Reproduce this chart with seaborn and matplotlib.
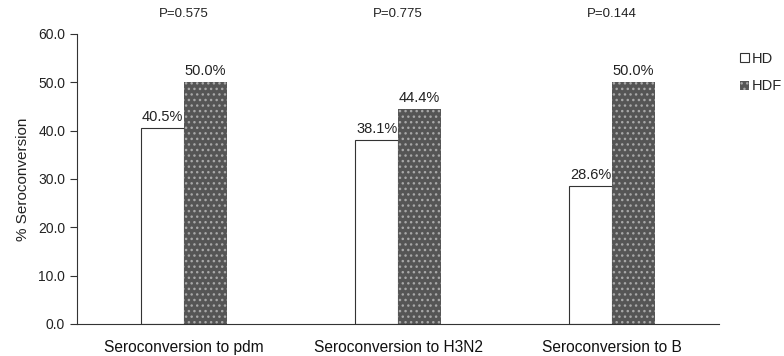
import matplotlib
matplotlib.use("Agg")
import matplotlib.pyplot as plt
import seaborn as sns
import pandas as pd
from matplotlib.patches import Patch

categories = ["Seroconversion to pdm", "Seroconversion to H3N2", "Seroconversion to B"]
groups = ["HD", "HDF"]
hd_values = [40.5, 38.1, 28.6]
hdf_values = [50.0, 44.4, 50.0]
p_values = ["P=0.575", "P=0.775", "P=0.144"]
y_ticks = [0, 10, 20, 30, 40, 50, 60]

df = pd.DataFrame({
    "category": categories * 2,
    "group": [groups[0]] * 3 + [groups[1]] * 3,
    "value": hd_values + hdf_values,
})

sns.set_style("white")
plt.rcParams["font.family"] = ["Liberation Sans", "DejaVu Sans"]
plt.rcParams["hatch.linewidth"] = 1.0

DOT_FACE = "#555555"
DOT_COLOR = "#a8a8a8"

fig = plt.figure(figsize=(7.84, 3.56), dpi=100)
ax = fig.add_axes([0.0982, 0.0899, 0.819, 0.8146])

sns.barplot(data=df, x="category", y="value", hue="group", order=categories,
            hue_order=groups, width=0.4, ax=ax, legend=False,
            palette={"HD": "white", "HDF": DOT_FACE})

hd_bars = ax.containers[0]
hdf_bars = ax.containers[1]
for b in hd_bars:
    b.set_edgecolor("#333333")
    b.set_linewidth(0.8)
for b in hdf_bars:
    # dotted fill: light hatch dots on a dark face
    b.set_edgecolor(DOT_COLOR)
    b.set_linewidth(0.0)
    b.set_hatch("...")

for cont, vals in ((hd_bars, hd_values), (hdf_bars, hdf_values)):
    ax.bar_label(cont, labels=[f"{v:.1f}%" for v in vals], padding=3,
                 fontsize=10.5, color="#222222")

for i, p in enumerate(p_values):
    ax.text(i, 1.0 + 20 / 290, p, transform=ax.get_xaxis_transform(),
            ha="center", va="center", fontsize=9.5, color="#222222")

ax.set_ylim(0, 60)
ax.set_xlim(-0.5, 2.5)
ax.set_yticks(y_ticks)
ax.set_yticklabels([f"{t:.1f}" for t in y_ticks], fontsize=10, color="#222222")
ax.tick_params(axis="y", left=True, length=5, width=0.8, color="#333333")
ax.tick_params(axis="x", bottom=False, labelsize=11.2, labelcolor="#111111", pad=8)
ax.set_xlabel("")
ax.set_ylabel("% Seroconversion", fontsize=11, color="#222222", labelpad=6)

for s in ("top", "right"):
    ax.spines[s].set_visible(False)
for s in ("left", "bottom"):
    ax.spines[s].set_color("#333333")
    ax.spines[s].set_linewidth(0.8)

handles = [
    Patch(facecolor="white", edgecolor="#333333", linewidth=0.8, label="HD"),
    Patch(facecolor=DOT_FACE, edgecolor=DOT_COLOR, hatch="...", linewidth=0, label="HDF"),
]
fig.legend(handles=handles, loc="upper left", bbox_to_anchor=(0.944, 0.855),
           frameon=False, fontsize=10.5, handlelength=0.6, handleheight=0.6,
           handletextpad=0.2, labelspacing=0.95, borderpad=0, borderaxespad=0)

fig.savefig("out.png", dpi=100)
